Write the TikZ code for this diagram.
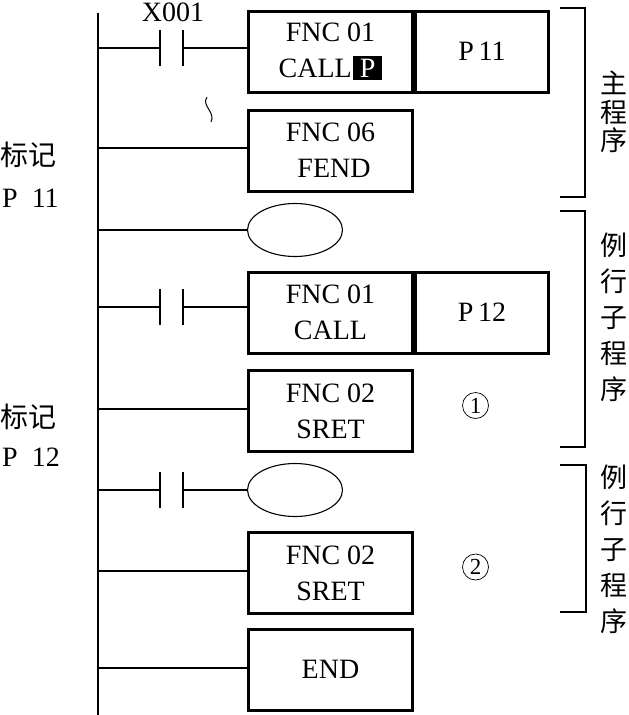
\documentclass[tikz,border=0pt]{standalone}
\usepackage{fontspec}
\setmainfont{Liberation Serif}
\newfontfamily\cjk{Noto Sans CJK SC}
\usetikzlibrary{shapes.geometric,positioning,calc}

\begin{document}
\begin{tikzpicture}[x=1pt,y=-1pt,
  fnbox/.style={draw, line width=3pt, minimum width=164pt, minimum height=81pt,
                inner sep=0pt, align=center, font=\fontsize{28}{36}\selectfont},
  argbox/.style={draw, line width=3pt, minimum width=133pt, minimum height=81pt,
                 inner sep=0pt, font=\fontsize{28}{36}\selectfont},
  coil/.style={draw, ellipse, line width=1.1pt, minimum width=95pt, minimum height=53pt, inner sep=0pt},
  wire/.style={line width=1.2pt},
  bracket/.style={line width=1.8pt},
  vlabel/.style={align=center, inner sep=0pt},
  num/.style={draw, circle, line width=0.7pt, minimum size=26pt, inner sep=0pt, font=\fontsize{23}{23}\selectfont}]
  \useasboundingbox (0,0) rectangle (629,715);
  % Define dimensions
  \def\Bar{18}
  % Draw rail
  \draw[line width=2pt] (98,13) -- (98,715);

  % Define boxes
  \node[fnbox] (call1) at (330.5,51.5) {FNC 01\\CALL\hspace{1pt}{\fboxsep=3pt\colorbox{black}{\hspace{4pt}\textcolor{white}{P}\hspace{4pt}}}};
  \node[argbox, right=0pt of call1] (p11) {P\,11};
  \node[fnbox] (fend) at (330.5,150.5) {FNC 06\\\ FEND};
  \node[coil] (coil1) at (295,230) {};
  \node[fnbox] (call2) at (330.5,312.5) {FNC 01\\CALL};
  \node[argbox, right=0pt of call2] (p12) {P\,12};
  \node[fnbox] (sret1) at (330.5,411) {FNC 02\\SRET};
  \node[coil] (coil2) at (295,490) {};
  \node[fnbox] (sret2) at (330.5,573) {FNC 02\\SRET};
  \node[fnbox] (end) at (330.5,669.5) {END};

  % Define rungs on the rail
  \coordinate (R1) at (98,48);
  \coordinate (R2) at (98,148);
  \coordinate (R3) at (98,230);
  \coordinate (R4) at (98,307);
  \coordinate (R5) at (98,409);
  \coordinate (R6) at (98,490);
  \coordinate (R7) at (98,571);
  \coordinate (R8) at (98,668);

  % Define contacts
  \coordinate (A1) at (160,48);  \coordinate (B1) at (183,48);
  \coordinate (A2) at (160,307); \coordinate (B2) at (183,307);
  \coordinate (A3) at (160,490); \coordinate (B3) at (183,490);

  % Draw contacts
  \foreach \point in {A1,B1,A2,B2,A3,B3}
      \draw[wire] ($(\point)+(0,-\Bar)$) -- ($(\point)+(0,\Bar)$);
  \node at (173,12) {\fontsize{28}{28}\selectfont X001};

  % Draw rungs
  \draw[wire] (R1) -- (A1);
  \draw[wire] (B1) -- (B1 -| call1.west);
  \draw[wire] (R2) -- (R2 -| fend.west);
  \draw[wire] (R3) -- (coil1.west);
  \draw[wire] (R4) -- (A2);
  \draw[wire] (B2) -- (B2 -| call2.west);
  \draw[wire] (R5) -- (R5 -| sret1.west);
  \draw[wire] (R6) -- (A3);
  \draw[wire] (B3) -- (coil2.west);
  \draw[wire] (R7) -- (R7 -| sret2.west);
  \draw[wire] (R8) -- (R8 -| end.west);

  % Skipped lines
  \draw[line width=1pt] (207,97) .. controls (201,106) and (216,112) .. (211,122);

  % Label points
  \node[anchor=west, inner sep=0pt] (mark1) at (0,155) {\cjk\fontsize{28}{28}\selectfont 标记};
  \node[anchor=west, inner sep=0pt] (lab1) at (2,198) {\fontsize{28}{28}\selectfont P\enspace 11};
  \node[anchor=west, inner sep=0pt] (mark2) at (0,417) {\cjk\fontsize{28}{28}\selectfont 标记};
  \node[anchor=west, inner sep=0pt] (lab2) at (2,457) {\fontsize{28}{28}\selectfont P\enspace 12};
  \node[num] (n1) at (475.5,405.5) {1};
  \node[num] (n2) at (475.5,567) {2};

  % Draw brackets
  \draw[bracket] (560,8) -- (585,8) -- (585,197) -- (560,197);
  \draw[bracket] (560,211) -- (585,211) -- (585,447) -- (560,447);
  \draw[bracket] (560,465) -- (586,465) -- (586,612) -- (560,612);
  \node[vlabel, font=\cjk\fontsize{27}{28.5}\selectfont] (main) at (614,112) {主\\程\\序};
  \node[vlabel, font=\cjk\fontsize{27}{36}\selectfont] (sub1) at (614,317) {例\\行\\子\\程\\序};
  \node[vlabel, font=\cjk\fontsize{27}{36}\selectfont] (sub2) at (614,549) {例\\行\\子\\程\\序};
\end{tikzpicture}
\end{document}
